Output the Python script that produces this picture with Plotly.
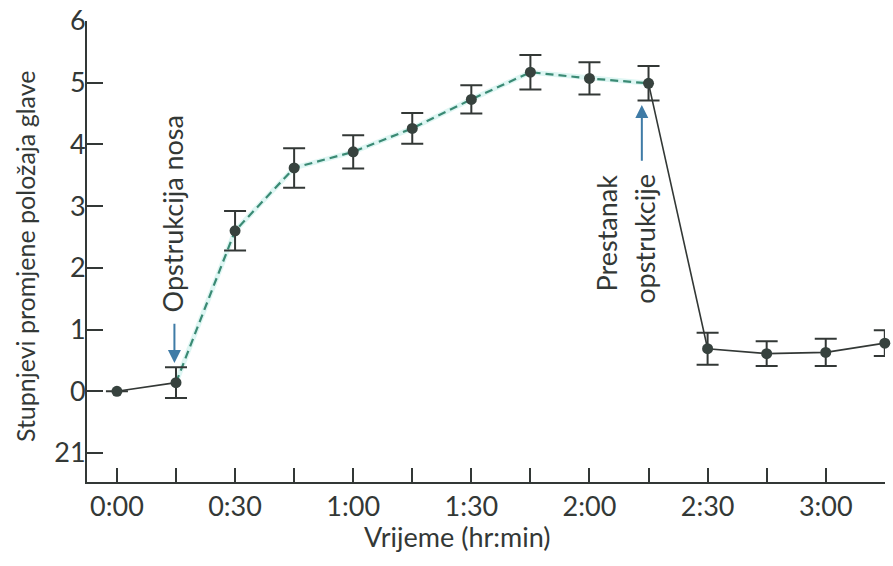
import plotly.graph_objects as go

# Data
times = [0, 15, 30, 45, 60, 75, 90, 105, 120, 135, 150, 165, 180, 195]  # minutes
means = [0.0, 0.14, 2.60, 3.62, 3.88, 4.26, 4.73, 5.17, 5.07, 4.99, 0.69, 0.61, 0.63, 0.78]
errs = [None, 0.25, 0.32, 0.32, 0.27, 0.25, 0.23, 0.28, 0.26, 0.28, 0.26, 0.20, 0.22, 0.21]

x_tick_vals = [0, 15, 30, 45, 60, 75, 90, 105, 120, 135, 150, 165, 180, 195]
x_tick_text = ["0:00", "", "0:30", "", "1:00", "", "1:30", "", "2:00", "", "2:30", "", "3:00", ""]
y_tick_vals = [-1, 0, 1, 2, 3, 4, 5, 6]
y_tick_text = ["21", "0", "1", "2", "3", "4", "5", "6"]

# segment indices: solid before obstruction, dashed during, solid after
start_obs = 1
end_obs = 9

FONT = "Lato"
DARK = "#333836"
TEAL = "#3a8a74"
BLUE = "#3f7ba6"

fig = go.Figure()

fig.add_trace(go.Scatter(x=times[:start_obs + 1], y=means[:start_obs + 1], mode="lines",
                         line=dict(color=DARK, width=1.6), hoverinfo="skip", showlegend=False))
fig.add_trace(go.Scatter(x=times[start_obs:end_obs + 1], y=means[start_obs:end_obs + 1], mode="lines",
                         line=dict(color="rgba(160,228,220,0.35)", width=5), hoverinfo="skip", showlegend=False))
fig.add_trace(go.Scatter(x=times[start_obs:end_obs + 1], y=means[start_obs:end_obs + 1], mode="lines",
                         line=dict(color=TEAL, width=2.2, dash="8px,5px"), hoverinfo="skip", showlegend=False))
fig.add_trace(go.Scatter(x=times[end_obs:], y=means[end_obs:], mode="lines",
                         line=dict(color=DARK, width=1.6), hoverinfo="skip", showlegend=False))
fig.add_trace(go.Scatter(x=times, y=means, mode="markers",
                         marker=dict(size=11, color="#37423e"),
                         error_y=dict(type="data", array=errs, visible=True, color=DARK,
                                      thickness=2, width=11),
                         cliponaxis=False, showlegend=False))

annotations = [
    dict(text="Stupnjevi promjene položaja glave", xref="paper", yref="paper",
         x=-0.0777, y=0.49, textangle=-90, showarrow=False, borderpad=0,
         font=dict(family=FONT, size=25, color=DARK), xanchor="center", yanchor="middle"),
    dict(text="Vrijeme (hr:min)", xref="paper", yref="paper", x=0.4637, y=-0.118,
         showarrow=False, font=dict(family=FONT, size=27, color=DARK),
         xanchor="center", yanchor="middle"),
    dict(text="Opstrukcija nosa", x=14.2, y=2.88, xref="x", yref="y", textangle=-90,
         showarrow=False, font=dict(family=FONT, size=27, color=DARK),
         xanchor="center", yanchor="middle"),
    dict(x=14.6, y=0.46, ax=14.6, ay=1.12, xref="x", yref="y", axref="x", ayref="y",
         text="", showarrow=True, arrowhead=2, arrowsize=1.3, arrowwidth=2, arrowcolor=BLUE),
    dict(text="Prestanak", x=124.4, y=3.55, xref="x", yref="y", textangle=-90,
         showarrow=False, font=dict(family=FONT, size=27, color=DARK),
         xanchor="center", yanchor="top"),
    dict(text="opstrukcije", x=134.0, y=3.55, xref="x", yref="y", textangle=-90,
         showarrow=False, font=dict(family=FONT, size=27, color=DARK),
         xanchor="center", yanchor="top"),
    dict(x=133.3, y=4.64, ax=133.3, ay=3.71, xref="x", yref="y", axref="x", ayref="y",
         text="", showarrow=True, arrowhead=2, arrowsize=1.3, arrowwidth=2, arrowcolor=BLUE),
]

fig.update_layout(
    width=893, height=566,
    margin=dict(l=87, r=8, t=21, b=84, autoexpand=False),
    paper_bgcolor="white", plot_bgcolor="white",
    font=dict(family=FONT, size=24, color=DARK),
    annotations=annotations,
    showlegend=False,
)
fig.update_xaxes(range=[-7.6, 195.05], tickmode="array", tickvals=x_tick_vals, ticktext=x_tick_text,
                 ticks="inside", ticklen=14, tickwidth=2, tickcolor=DARK, automargin=False,
                 showline=True, linecolor=DARK, linewidth=2, showgrid=False, zeroline=False,
                 tickfont=dict(family=FONT, size=27, color=DARK), ticklabelstandoff=0,
                 ticklabeloverflow="allow")
fig.update_yaxes(range=[-1.47, 6.0], tickmode="array", tickvals=y_tick_vals, ticktext=y_tick_text,
                 ticks="inside", ticklen=16, tickwidth=2, tickcolor=DARK, automargin=False,
                 showline=True, linecolor=DARK, linewidth=2, showgrid=False, zeroline=False,
                 tickfont=dict(family=FONT, size=27, color=DARK), ticklabelstandoff=-6,
                 ticklabeloverflow="allow")

# remove the default 8px page margin so the figure fills the window exactly
fig.write_html("out.html", config={"displayModeBar": False},
               post_script="document.body.style.margin='0';")
